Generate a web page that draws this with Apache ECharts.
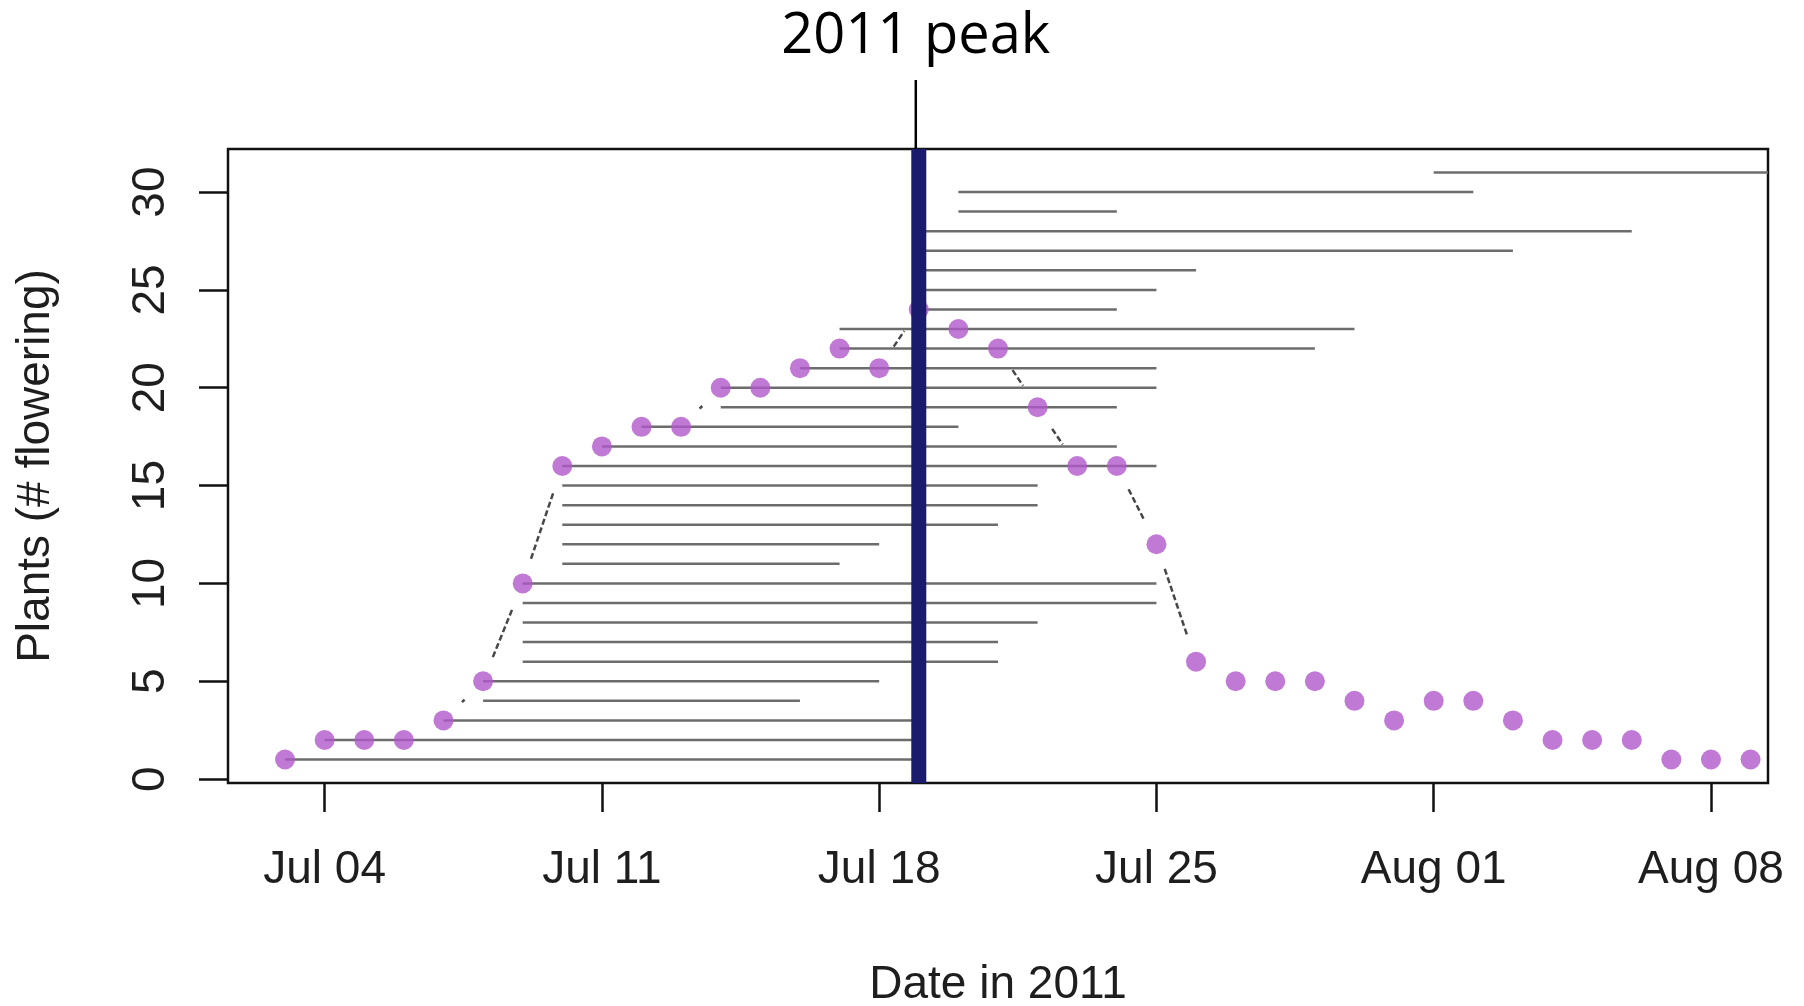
<!DOCTYPE html>
<html>
<head>
<meta charset="utf-8">
<title>Plants flowering in 2011</title>
<script src="https://cdn.jsdelivr.net/npm/echarts@6/dist/echarts.min.js"></script>
<style>
  html, body { margin: 0; padding: 0; background: #ffffff; }
  #chart { width: 1804px; height: 1006px; }
</style>
</head>
<body>
<div id="chart"></div>
<script>
// Survey days and the number of plants in flower on each day
const days = [
  '2011-07-03','2011-07-04','2011-07-05','2011-07-06','2011-07-07','2011-07-08','2011-07-09','2011-07-10',
  '2011-07-11','2011-07-12','2011-07-13','2011-07-14','2011-07-15','2011-07-16','2011-07-17','2011-07-18',
  '2011-07-19','2011-07-20','2011-07-21','2011-07-22','2011-07-23','2011-07-24','2011-07-25','2011-07-26',
  '2011-07-27','2011-07-28','2011-07-29','2011-07-30','2011-07-31','2011-08-01','2011-08-02','2011-08-03',
  '2011-08-04','2011-08-05','2011-08-06','2011-08-07','2011-08-08','2011-08-09'
];
const flowering = [
  1, 2, 2, 2, 3, 5, 10, 16,
  17, 18, 18, 20, 20, 21, 22, 21,
  24, 23, 22, 19, 16, 16, 12, 6,
  5, 5, 5, 4, 3, 4, 4, 3,
  2, 2, 2, 1, 1, 1
];

// Flowering period of each plant (plant n is drawn at height n)
const plantStart = [
  '2011-07-03','2011-07-04','2011-07-07','2011-07-08','2011-07-08','2011-07-09','2011-07-09','2011-07-09',
  '2011-07-09','2011-07-09','2011-07-10','2011-07-10','2011-07-10','2011-07-10','2011-07-10','2011-07-10',
  '2011-07-11','2011-07-12','2011-07-14','2011-07-14','2011-07-16','2011-07-17','2011-07-17','2011-07-19',
  '2011-07-19','2011-07-19','2011-07-19','2011-07-19','2011-07-20','2011-07-20','2011-08-01'
];
const plantEnd = [
  '2011-07-19','2011-07-19','2011-07-19','2011-07-16','2011-07-18','2011-07-21','2011-07-21','2011-07-22',
  '2011-07-25','2011-07-25','2011-07-17','2011-07-18','2011-07-21','2011-07-22','2011-07-22','2011-07-25',
  '2011-07-24','2011-07-20','2011-07-24','2011-07-25','2011-07-25','2011-07-29','2011-07-30','2011-07-24',
  '2011-07-25','2011-07-26','2011-08-03','2011-08-06','2011-07-24','2011-08-02','2011-08-10'
];

const peakDate = '2011-07-19';

// Axis limits (padded by 4% each side) and tick marks
const xLimits = ['2011-07-03', '2011-08-08'];
const yLimits = [1, 31];
const xTickDates = ['2011-07-04','2011-07-11','2011-07-18','2011-07-25','2011-08-01','2011-08-08'];
const xTickLabels = ['Jul 04','Jul 11','Jul 18','Jul 25','Aug 01','Aug 08'];
const yTicks = [0, 5, 10, 15, 20, 25, 30];

const ORIGIN = Date.UTC(2011, 6, 4);
function dayOffset(s) {
  const [y, m, d] = s.split('-').map(Number);
  return (Date.UTC(y, m - 1, d) - ORIGIN) / 86400000;
}
function padRange(a, b) {
  const p = (b - a) * 0.04;
  return [a - p, b + p];
}

const xRange = padRange(dayOffset(xLimits[0]), dayOffset(xLimits[1]));
const yRange = padRange(yLimits[0], yLimits[1]);
const xTickValues = xTickDates.map(dayOffset);

const dotData = days.map((d, i) => [dayOffset(d), flowering[i]]);
const plantData = plantStart.map((s, i) => [dayOffset(s), dayOffset(plantEnd[i]), i + 1]);
const linkData = [];
for (let i = 0; i + 1 < dotData.length; i++) {
  linkData.push([dotData[i][0], dotData[i][1], dotData[i + 1][0], dotData[i + 1][1]]);
}

const FONT = '"Liberation Sans", Arial, sans-serif';
const INK = '#1e1e1e';
const GAP = 26;

const chart = echarts.init(document.getElementById('chart'), null, { renderer: 'canvas' });

chart.setOption({
  animation: false,
  backgroundColor: '#ffffff',
  grid: {
    left: 228, right: 36, top: 149, bottom: 223,
    outerBoundsMode: 'none',
    containLabel: false,
    show: true, borderColor: '#111111', borderWidth: 2.5, backgroundColor: 'transparent'
  },
  xAxis: {
    type: 'value',
    min: xRange[0], max: xRange[1],
    axisLine: { show: false, onZero: false },
    splitLine: { show: false },
    axisTick: { show: true, length: 29, customValues: xTickValues, lineStyle: { color: '#111111', width: 2.5 } },
    axisLabel: {
      customValues: xTickValues,
      margin: 64,
      fontSize: 46, fontFamily: FONT, color: INK,
      formatter: function (v) {
        const i = xTickValues.findIndex(t => Math.abs(t - v) < 1e-6);
        return i >= 0 ? xTickLabels[i] : '';
      }
    },
    name: 'Date in 2011',
    nameLocation: 'middle',
    nameGap: 179,
    nameTextStyle: { fontSize: 46, fontFamily: FONT, color: INK }
  },
  yAxis: {
    type: 'value',
    min: yRange[0], max: yRange[1],
    axisLine: { show: false, onZero: false },
    splitLine: { show: false },
    axisTick: { show: true, length: 29, customValues: yTicks, lineStyle: { color: '#111111', width: 2.5 } },
    axisLabel: {
      customValues: yTicks,
      rotate: 90,
      margin: 54,
      fontSize: 46, fontFamily: FONT, color: INK
    },
    name: 'Plants (# flowering)',
    nameLocation: 'middle',
    nameRotate: 90,
    nameGap: 169,
    nameTextStyle: { fontSize: 46, fontFamily: FONT, color: INK }
  },
  series: [
    {
      // one horizontal bar per plant, from first to last flowering day
      name: 'plants',
      type: 'custom',
      z: 1,
      silent: true,
      encode: { x: [0, 1], y: 2 },
      data: plantData,
      renderItem: function (params, api) {
        const cs = params.coordSys;
        const a = api.coord([api.value(0), api.value(2)]);
        const b = api.coord([api.value(1), api.value(2)]);
        const x1 = Math.max(a[0], cs.x);
        const x2 = Math.min(b[0], cs.x + cs.width);
        return {
          type: 'line',
          shape: { x1: x1, y1: a[1], x2: x2, y2: b[1] },
          style: { stroke: '#6c6c6c', lineWidth: 2.5 }
        };
      }
    },
    {
      // dashed joins between daily counts, kept clear of the points
      name: 'joins',
      type: 'custom',
      z: 2,
      silent: true,
      encode: { x: [0, 2], y: [1, 3] },
      data: linkData,
      renderItem: function (params, api) {
        const p = api.coord([api.value(0), api.value(1)]);
        const q = api.coord([api.value(2), api.value(3)]);
        const dx = q[0] - p[0], dy = q[1] - p[1];
        const len = Math.sqrt(dx * dx + dy * dy);
        if (len <= 2 * GAP) return null;
        const ux = dx / len, uy = dy / len;
        return {
          type: 'line',
          shape: { x1: p[0] + ux * GAP, y1: p[1] + uy * GAP, x2: q[0] - ux * GAP, y2: q[1] - uy * GAP },
          style: { stroke: '#474747', lineWidth: 2.5, lineDash: [6, 3] }
        };
      }
    },
    {
      name: 'flowering',
      type: 'scatter',
      z: 3,
      silent: true,
      symbol: 'circle',
      symbolSize: 20,
      itemStyle: { color: '#b157cc' },
      data: dotData
    },
    {
      // peak day marker
      name: 'peak',
      type: 'custom',
      z: 4,
      silent: true,
      encode: { x: 0 },
      data: [[dayOffset(peakDate)]],
      renderItem: function (params, api) {
        const cs = params.coordSys;
        const x = api.coord([api.value(0), yRange[0]])[0];
        return {
          type: 'rect',
          shape: { x: x - 7.5, y: cs.y, width: 15, height: cs.height },
          style: { fill: '#1b1b6e' }
        };
      }
    }
  ]
});

// Caption above the peak day
const peakX = chart.convertToPixel({ xAxisIndex: 0 }, dayOffset(peakDate));
chart.setOption({
  graphic: [
    {
      type: 'text',
      x: peakX - 3, y: 37,
      silent: true,
      style: {
        text: '2011 peak',
        font: '56px "Open Sans", "Noto Sans", sans-serif',
        fill: '#000000',
        align: 'center', verticalAlign: 'middle',
        textAlign: 'center', textVerticalAlign: 'middle'
      }
    },
    {
      type: 'line',
      silent: true,
      shape: { x1: peakX - 3, y1: 80, x2: peakX - 3, y2: 149 },
      style: { stroke: '#000000', lineWidth: 2.5 }
    }
  ]
});
</script>
</body>
</html>
